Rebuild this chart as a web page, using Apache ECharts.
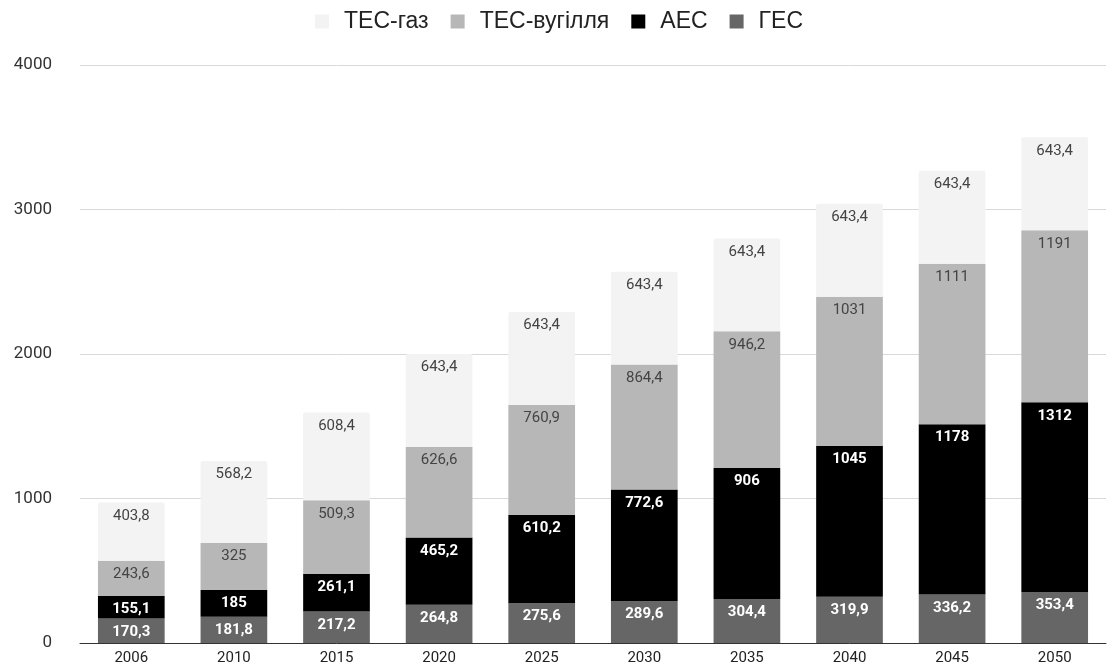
<!DOCTYPE html>
<html><head><meta charset="utf-8">
<script src="https://cdn.jsdelivr.net/npm/echarts@6/dist/echarts.min.js"></script>
<style>html,body{margin:0;padding:0;background:#fff}#c{width:1118px;height:668px}</style>
</head><body><div id="c"></div>
<script>
const categories = ['2006','2010','2015','2020','2025','2030','2035','2040','2045','2050'];
const hes = [170.3,181.8,217.2,264.8,275.6,289.6,304.4,319.9,336.2,353.4];
const aes = [155.1,185,261.1,465.2,610.2,772.6,906,1045,1178,1312];
const tesCoal = [243.6,325,509.3,626.6,760.9,864.4,946.2,1031,1111,1191];
const tesGas = [403.8,568.2,608.4,643.4,643.4,643.4,643.4,643.4,643.4,643.4];
const yTicks = [0,1000,2000,3000,4000];

const fmt = p => String(p.value).replace('.', ',');
function mk(name, data, color, labelColor, bold, top) {
  return {
    name, type: 'bar', stack: 'all', data, barWidth: '65%',
    itemStyle: { color, borderRadius: top ? [2,2,0,0] : 0 },
    label: { show: true, position: 'insideTop', distance: 6, formatter: fmt,
      color: labelColor, fontFamily: 'Roboto', fontSize: 15, fontWeight: bold ? 'bold' : 'normal' }
  };
}
const chart = echarts.init(document.getElementById('c'));
chart.setOption({
  animation: false,
  legend: { top: 5, left: 'center', itemWidth: 14, itemHeight: 14, itemGap: 22,
    icon: 'rect', textStyle: { fontFamily: 'Liberation Sans', fontSize: 23, color: '#222', padding: [0,0,0,10] },
    data: ['ТЕС-газ','ТЕС-вугілля','АЕС','ГЕС'] },
  grid: { left: 80, right: 12, top: 65, bottom: 25, containLabel: false },
  xAxis: { type: 'category', data: categories,
    axisLine: { lineStyle: { color: '#333' } }, axisTick: { show: false },
    axisLabel: { fontFamily: 'Roboto', fontSize: 15, color: '#222', margin: 8 } },
  yAxis: { type: 'value', min: yTicks[0], max: yTicks[yTicks.length-1], interval: 1000,
    axisLabel: { fontFamily: 'Roboto', fontSize: 17, color: '#333', margin: 28, formatter: v => String(v) },
    splitLine: { lineStyle: { color: '#d9d9d9' } } },
  series: [
    mk('ГЕС', hes, '#666666', '#ffffff', true, false),
    mk('АЕС', aes, '#000000', '#ffffff', true, false),
    mk('ТЕС-вугілля', tesCoal, '#b7b7b7', '#444444', false, false),
    mk('ТЕС-газ', tesGas, '#f3f3f3', '#444444', false, true)
  ]
});
</script></body></html>
